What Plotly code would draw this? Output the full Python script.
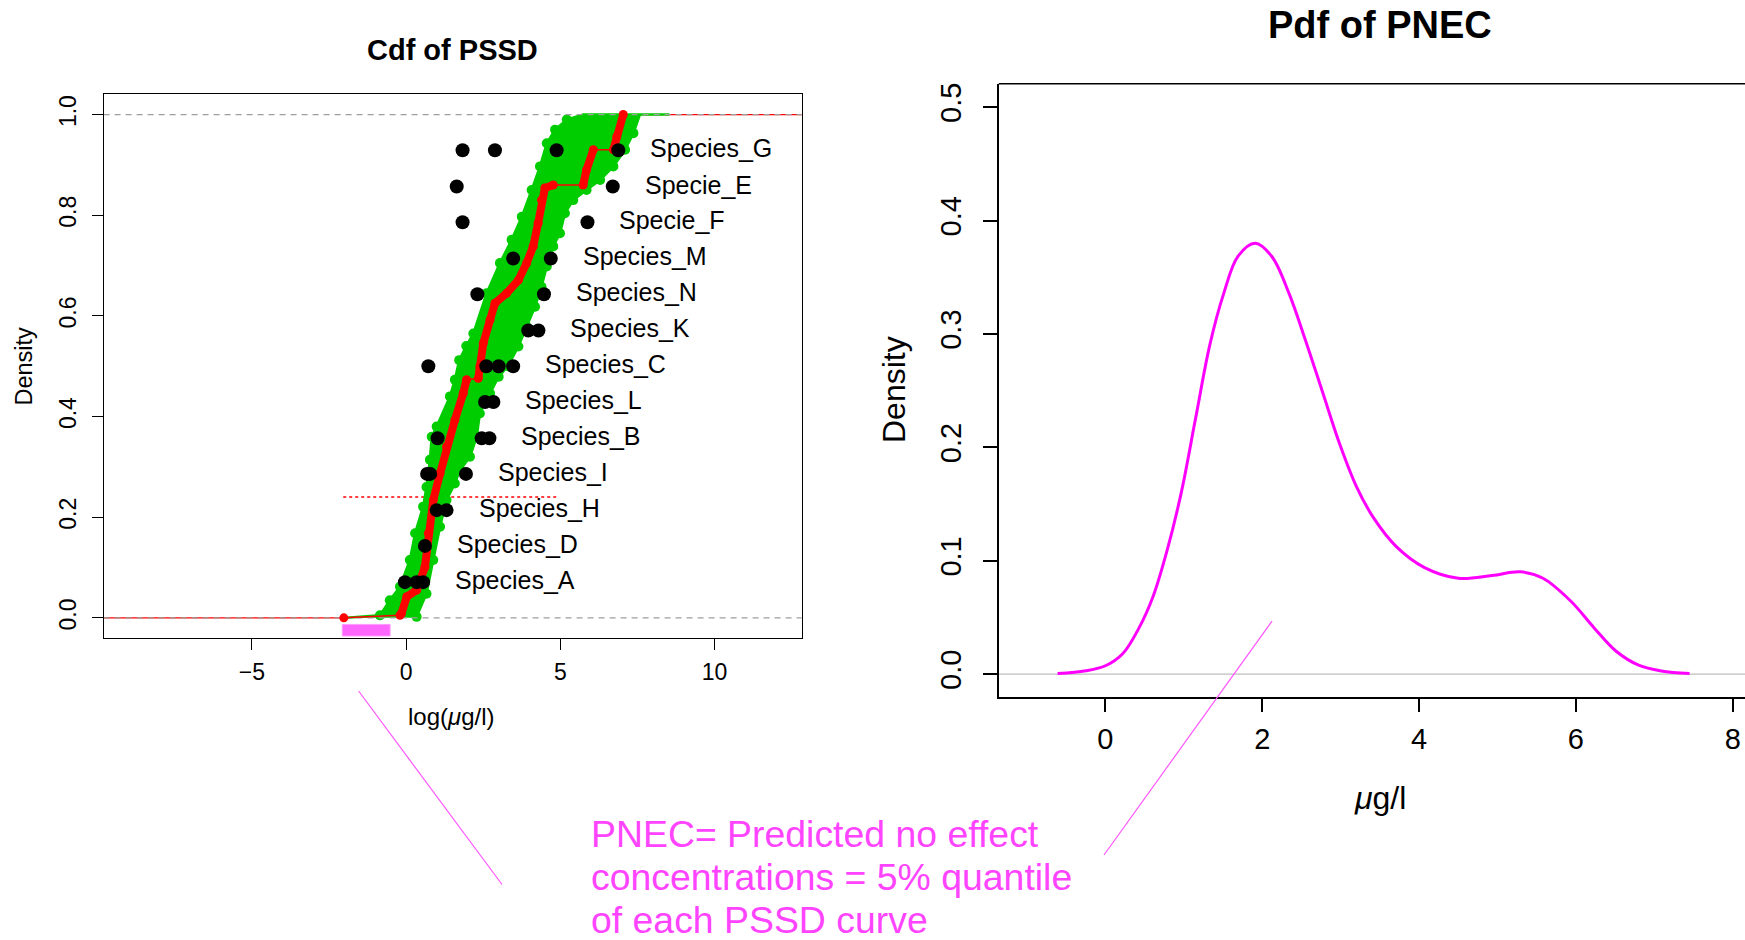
import plotly.graph_objects as go

W, H = 1745, 940

# ---------------- data ----------------
species = ["Species_A", "Species_D", "Species_H", "Species_I", "Species_B",
           "Species_L", "Species_C", "Species_K", "Species_N", "Species_M",
           "Specie_F", "Specie_E", "Species_G"]
species_cdf = [0.071, 0.143, 0.214, 0.286, 0.357, 0.429, 0.500,
               0.571, 0.643, 0.714, 0.786, 0.857, 0.929]
species_values = [
    [-0.04, 0.34, 0.55],
    [0.61],
    [0.99, 1.31],
    [0.68, 0.78, 1.94],
    [1.02, 2.45, 2.70],
    [2.56, 2.83],
    [0.72, 2.60, 3.00, 3.47],
    [3.96, 4.29],
    [2.31, 4.47],
    [3.47, 4.69],
    [1.83, 5.88],
    [1.64, 6.70],
    [1.83, 2.88, 4.88, 6.88],
]

# envelope of the bootstrapped PSSD curves (green band)
band_left_x = [-1.93, -0.85, -0.53, -0.20, 0.12, 0.29, 0.55, 0.66, 0.77, 0.83, 0.99,
               1.42, 1.58, 1.72, 1.95, 2.18, 2.61, 3.04, 3.42, 3.75, 4.07, 4.34,
               4.56, 4.83, 5.21, 5.74, 8.54]
band_left_y = [0.000, 0.005, 0.035, 0.062, 0.115, 0.168, 0.221, 0.260, 0.314, 0.360, 0.380,
               0.440, 0.473, 0.512, 0.540, 0.565, 0.645, 0.705, 0.751, 0.797, 0.850, 0.897,
               0.943, 0.970, 0.990, 1.000, 1.000]
band_right_x = [7.58, 7.37, 7.10, 6.72, 6.29, 5.85, 5.42, 5.15, 4.99, 4.77, 4.56, 4.39,
                4.18, 3.91, 3.64, 3.30, 3.00, 2.72, 2.39, 2.29, 2.07, 1.75, 1.58, 1.31,
                1.10, 0.88, 0.66, 0.34, 0.34]
band_right_y = [1.000, 0.963, 0.930, 0.897, 0.870, 0.850, 0.830, 0.804, 0.764, 0.738, 0.698, 0.658,
                0.618, 0.579, 0.539, 0.500, 0.479, 0.446, 0.406, 0.360, 0.320, 0.294, 0.267, 0.234,
                0.181, 0.115, 0.048, 0.002, 0.000]

# central PSSD curve (red)
red_x = [-2.02, -0.20, -0.15, 0.02, 0.34, 0.61, 0.72, 0.88, 1.10, 1.31, 1.58, 1.85, 1.96,
         2.34, 2.39, 2.50, 2.72, 2.88, 3.26, 3.64, 3.91, 4.12, 4.28, 4.39, 4.50, 4.77,
         5.74, 5.85, 6.07, 6.72, 6.83, 7.04]
red_y = [0.000, 0.005, 0.009, 0.042, 0.055, 0.101, 0.168, 0.234, 0.287, 0.340, 0.393, 0.446, 0.473,
         0.476, 0.499, 0.545, 0.592, 0.625, 0.645, 0.671, 0.705, 0.738, 0.784, 0.830, 0.854, 0.860,
         0.860, 0.890, 0.930, 0.930, 0.956, 1.000]

quantile_line_y = 0.24
quantile_line_x = [-2.04, 4.94]
pnec_range = [-2.07, -0.52]

# PNEC density
pdf_x = [-0.61, -0.25, 0.00, 0.22, 0.43, 0.61, 0.79, 0.97, 1.15, 1.33, 1.51, 1.69, 1.91,
         2.12, 2.34, 2.55, 2.77, 2.99, 3.20, 3.42, 3.71, 4.07, 4.50, 4.93, 5.29, 5.58,
         5.94, 6.23, 6.51, 6.80, 7.09, 7.45]
pdf_y = [0.0005, 0.003, 0.0074, 0.018, 0.041, 0.069, 0.110, 0.161, 0.2256, 0.290, 0.336, 0.3685, 0.380,
         0.3685, 0.336, 0.2947, 0.2486, 0.2025, 0.1656, 0.1378, 0.1125, 0.094, 0.0846, 0.087, 0.0903,
         0.0846, 0.0641, 0.041, 0.0204, 0.0079, 0.0028, 0.0005]

left_xticks = [-5, 0, 5, 10]
left_yticks = [0.0, 0.2, 0.4, 0.6, 0.8, 1.0]
right_xticks = [0, 2, 4, 6, 8]
right_yticks = [0.0, 0.1, 0.2, 0.3, 0.4, 0.5]

note_lines = ["PNEC= Predicted no effect", "concentrations = 5% quantile", "of each PSSD curve"]

FONT = "Liberation Sans, Arial, Helvetica, sans-serif"
GREEN = "#00CD00"
MAG = "#FF00FF"
NOTE = "#FF44FF"

def px(x, y):
    return x / W, 1 - y / H

fig = go.Figure()

LX_RANGE = [-9.81, 12.83]
LY_RANGE = [-0.04, 1.04]

# red end segments of the ecdf (behind the grey dashed lines)
fig.add_trace(go.Scatter(x=[LX_RANGE[0], red_x[0], None, red_x[-1], LX_RANGE[1]],
                         y=[0, 0, None, 1, 1], mode="lines",
                         line=dict(color="red", width=1.2), xaxis="x", yaxis="y",
                         hoverinfo="skip", showlegend=False))
# dotted red quantile line
fig.add_trace(go.Scatter(x=quantile_line_x, y=[quantile_line_y] * 2, mode="lines",
                         line=dict(color="red", width=1.5, dash="dot"),
                         xaxis="x", yaxis="y", showlegend=False))

# green band
band_x = band_left_x + band_right_x
band_y = band_left_y + band_right_y
band_sizes = [0 if yv in (0.0, 1.0) else 10 for yv in band_y]
fig.add_trace(go.Scatter(x=band_x, y=band_y, fill="toself", fillcolor=GREEN,
                         mode="lines+markers", line=dict(color=GREEN, width=2.5),
                         marker=dict(color=GREEN, size=band_sizes, opacity=1,
                                     line=dict(width=0, color=GREEN)),
                         xaxis="x", yaxis="y", showlegend=False))

# grey dashed reference lines
for yv in (0, 1):
    fig.add_trace(go.Scatter(x=LX_RANGE, y=[yv, yv], mode="lines",
                             line=dict(color="#9E9E9E", width=1.3, dash="6px,5px"),
                             xaxis="x", yaxis="y", showlegend=False))

# red curve: thin line everywhere, thick where the curve is dense
fig.add_trace(go.Scatter(x=red_x, y=red_y, mode="lines",
                         line=dict(color="red", width=1.5),
                         xaxis="x", yaxis="y", showlegend=False))
thick_x, thick_y = [], []
for i in range(1, len(red_x)):
    dx = red_x[i] - red_x[i - 1]
    dy = red_y[i] - red_y[i - 1]
    if dx > 0.3 and dy < 0.01:
        thick_x.append(None)
        thick_y.append(None)
    else:
        if not thick_x or thick_x[-1] is None:
            thick_x.append(red_x[i - 1]); thick_y.append(red_y[i - 1])
        thick_x.append(red_x[i]); thick_y.append(red_y[i])
if thick_x and thick_x[0] is None:
    thick_x, thick_y = thick_x[1:], thick_y[1:]
fig.add_trace(go.Scatter(x=thick_x, y=thick_y,
                         mode="lines+markers", connectgaps=False,
                         line=dict(color="red", width=8),
                         marker=dict(color="red", size=9, line=dict(width=0)),
                         xaxis="x", yaxis="y", showlegend=False))
fig.add_trace(go.Scatter(x=[red_x[0]], y=[red_y[0]], mode="markers",
                         marker=dict(color="red", size=9, line=dict(width=0)),
                         xaxis="x", yaxis="y", showlegend=False))

# species points
sx, sy = [], []
for vals, yv in zip(species_values, species_cdf):
    for v in vals:
        sx.append(v); sy.append(yv)
fig.add_trace(go.Scatter(x=sx, y=sy, mode="markers",
                         marker=dict(color="black", size=14, line=dict(width=0)),
                         xaxis="x", yaxis="y", showlegend=False))

annotations = []
for name, vals, yv in zip(species, species_values, species_cdf):
    annotations.append(dict(x=max(vals), y=yv, xref="x", yref="y", text=name,
                            showarrow=False, xanchor="left", yanchor="middle",
                            xshift=30, yshift=2, font=dict(family=FONT, size=25, color="black")))

# PNEC range marker
shapes = [dict(type="rect", xref="x", yref="y", x0=pnec_range[0], x1=pnec_range[1],
               y0=-0.036, y1=-0.013, fillcolor="#FF66FF",
               line=dict(color="#FF99FF", width=1), layer="above")]

# right panel: density
fig.add_trace(go.Scatter(x=pdf_x, y=pdf_y, mode="lines", line=dict(color=MAG, width=3, shape="spline"),
                         xaxis="x2", yaxis="y2", showlegend=False))

RX_RANGE = [-1.36, 8.157]
RY_RANGE = [-0.0198, 0.5207]
shapes.append(dict(type="line", xref="x2 domain", yref="y2", x0=0, x1=1, y0=0, y1=0,
                   line=dict(color="#BEBEBE", width=1.3), layer="below"))
# top border of right panel
shapes.append(dict(type="line", xref="x2 domain", yref="y2 domain", x0=0, x1=1, y0=1, y1=1,
                   line=dict(color="black", width=1.5)))

# pointer lines
for (xa, ya), (xb, yb) in [((358.6, 691), (502, 884.5)), ((1104, 855), (1272, 621.2))]:
    x0, y0 = px(xa, ya)
    x1, y1 = px(xb, yb)
    shapes.append(dict(type="line", xref="paper", yref="paper", x0=x0, y0=y0, x1=x1, y1=y1,
                       line=dict(color="#FF55FF", width=1.2)))

def paper_text(text, x, y, size, bold=False, angle=0, color="black", xanchor="center"):
    xx, yy = px(x, y)
    return dict(x=xx, y=yy, xref="paper", yref="paper", showarrow=False,
                text=("<b>%s</b>" % text) if bold else text, textangle=angle,
                xanchor=xanchor, yanchor="middle",
                font=dict(family=FONT, size=size, color=color))

annotations += [
    paper_text("Cdf of PSSD", 452, 50, 29, bold=True),
    paper_text("Pdf of PNEC", 1380, 25, 38, bold=True),
    paper_text("Density", 23.5, 366, 23.5, angle=-90),
    paper_text("log(<i>μ</i>g/l)", 451.5, 716, 24),
    paper_text("Density", 894, 390, 32, angle=-90),
    paper_text("<i>μ</i>g/l", 1380, 798, 32),
]
for line, ypos in zip(note_lines, [834, 877, 920]):
    annotations.append(paper_text(line, 589, ypos, 37.4, color=NOTE, xanchor="left"))

axis_common = dict(showgrid=False, zeroline=False, ticks="outside", tickcolor="black",
                   linecolor="black", showline=True)

fig.update_layout(
    width=W, height=H, margin=dict(l=0, r=0, t=0, b=0),
    paper_bgcolor="white", plot_bgcolor="white", showlegend=False,
    font=dict(family=FONT, color="black"),
    xaxis=dict(domain=[103.6 / W, 801.8 / W], range=LX_RANGE, anchor="y",
               tickvals=left_xticks, ticklen=11, tickwidth=1.2, linewidth=1.2, mirror=True,
               tickfont=dict(size=23), ticklabelstandoff=2, **axis_common),
    yaxis=dict(domain=[1 - 638 / H, 1 - 94.4 / H], range=LY_RANGE, anchor="x",
               tickvals=left_yticks, tickformat=".1f", tickangle=-90, ticklen=11,
               tickwidth=1.2, linewidth=1.2, mirror=True, tickfont=dict(size=23),
               ticklabelstandoff=6, **axis_common),
    xaxis2=dict(domain=[998.8 / W, 1.0], range=RX_RANGE, anchor="y2",
                tickvals=right_xticks, ticklen=14, tickwidth=1.5, linewidth=1.5,
                tickfont=dict(size=29), ticklabelstandoff=2, **axis_common),
    yaxis2=dict(domain=[1 - 696.6 / H, 1 - 83.7 / H], range=RY_RANGE, anchor="x2",
                tickvals=right_yticks, tickformat=".1f", tickangle=-90, ticklen=14,
                tickwidth=1.5, linewidth=1.5, tickfont=dict(size=29),
                ticklabelstandoff=10, **axis_common),
    shapes=shapes, annotations=annotations,
)

fig.write_html("out.html", config={"displayModeBar": False},
               post_script="document.body.style.margin='0';document.body.style.padding='0';"
                           "document.documentElement.style.overflow='hidden';")
